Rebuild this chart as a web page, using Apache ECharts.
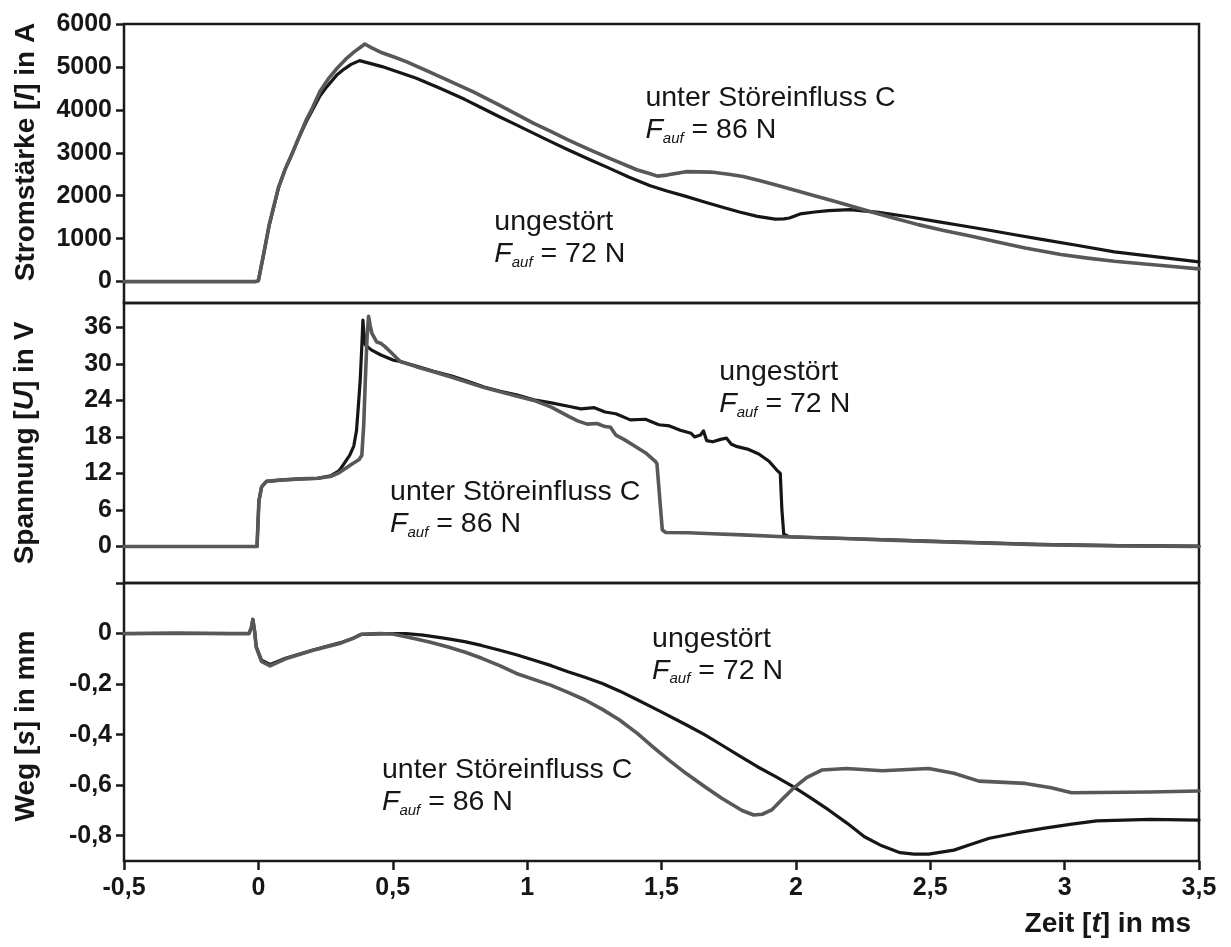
<!DOCTYPE html>
<html>
<head>
<meta charset="utf-8">
<script src="https://cdn.jsdelivr.net/npm/echarts@6/dist/echarts.min.js"></script>
<style>
  html, body { margin: 0; padding: 0; background: #ffffff; }
  #chart { width: 1231px; height: 947px; }
</style>
</head>
<body>
<div id="chart"></div>
<script>
// Time axis (ms) and per-panel tick values
const timeTicks = [-0.5, 0, 0.5, 1, 1.5, 2, 2.5, 3, 3.5];
const currentTicks = [0, 1000, 2000, 3000, 4000, 5000, 6000];
const voltageTicks = [0, 6, 12, 18, 24, 30, 36];
const travelTickMarks = [0.2, 0, -0.2, -0.4, -0.6, -0.8];
const travelTickLabels = [0, -0.2, -0.4, -0.6, -0.8];

// Stromstärke I in A: [t in ms, I]
const currentUndisturbed = [
  [-0.5, 0], [-0.3, 0], [-0.01, 0], [0.0, 20], [0.02, 650], [0.04, 1300], [0.075, 2180],
  [0.1, 2620], [0.127, 3000], [0.15, 3340], [0.178, 3720], [0.2, 3980], [0.229, 4320],
  [0.255, 4540], [0.293, 4820], [0.319, 4950], [0.345, 5060], [0.3765, 5147], [0.408, 5095],
  [0.46, 5008], [0.52, 4880], [0.588, 4736], [0.68, 4490], [0.7675, 4245], [0.83, 4050], [0.895, 3845],
  [0.96, 3650], [1.023, 3457], [1.09, 3255], [1.152, 3070], [1.23, 2850], [1.305, 2643], [1.38, 2430],
  [1.458, 2230], [1.52, 2110], [1.591, 1984], [1.66, 1855], [1.724, 1736], [1.79, 1620],
  [1.857, 1519], [1.923, 1455], [1.955, 1460], [1.976, 1481], [2.016, 1575], [2.07, 1620],
  [2.122, 1651], [2.202, 1674], [2.308, 1612], [2.42, 1510], [2.521, 1403], [2.62, 1300], [2.72, 1194],
  [2.82, 1085], [2.92, 977], [3.05, 840], [3.185, 690], [3.35, 570], [3.5, 457]
];
const currentDisturbed = [
  [-0.5, 0], [-0.3, 0], [-0.01, 0], [0.0, 20], [0.02, 650], [0.04, 1320], [0.075, 2200],
  [0.1, 2620], [0.127, 3000], [0.15, 3350], [0.178, 3767], [0.2, 4030], [0.229, 4426],
  [0.26, 4720], [0.293, 4969], [0.325, 5180], [0.3575, 5357], [0.38, 5460], [0.396, 5535],
  [0.42, 5450], [0.46, 5330], [0.505, 5230], [0.55, 5124], [0.63, 4900], [0.716, 4659], [0.8, 4420],
  [0.895, 4116], [0.96, 3900], [1.023, 3690], [1.09, 3490], [1.152, 3302], [1.23, 3080], [1.305, 2876],
  [1.408, 2605], [1.458, 2512], [1.485, 2455], [1.52, 2480], [1.591, 2560], [1.684, 2550],
  [1.75, 2500], [1.8035, 2449], [1.86, 2360], [1.923, 2256], [1.99, 2140], [2.056, 2023],
  [2.12, 1910], [2.189, 1791], [2.282, 1620], [2.37, 1470], [2.455, 1326], [2.55, 1190],
  [2.654, 1054], [2.75, 920], [2.853, 783], [2.986, 628], [3.085, 545], [3.185, 473], [3.35, 380], [3.5, 295]
];

// Spannung U in V
const voltageUndisturbed = [
  [-0.5, 0], [-0.005, 0], [0.002, 7.5], [0.012, 9.8], [0.03, 10.7], [0.08, 10.9], [0.156, 11.1],
  [0.22, 11.2], [0.268, 11.6], [0.3, 12.4], [0.317, 13.5], [0.34, 15.0], [0.355, 16.5],
  [0.365, 19], [0.372, 23], [0.379, 27.4], [0.385, 33], [0.389, 37.2], [0.392, 35.5],
  [0.398, 33.1], [0.42, 32.3], [0.454, 31.5], [0.503, 30.6], [0.528, 30.4], [0.59, 29.6],
  [0.652, 28.8], [0.72, 28.0], [0.776, 27.2], [0.84, 26.2], [0.9, 25.5], [0.96, 24.9],
  [1.025, 24.1], [1.09, 23.6], [1.158, 23.0], [1.2, 22.6], [1.25, 22.8], [1.29, 22.1],
  [1.33, 21.8], [1.384, 20.8], [1.44, 20.9], [1.49, 20.0], [1.53, 19.8], [1.57, 19.1],
  [1.61, 18.6], [1.623, 18.0], [1.645, 18.3], [1.656, 19.0], [1.668, 17.4], [1.69, 17.2],
  [1.72, 17.6], [1.742, 17.8], [1.76, 16.8], [1.782, 16.4], [1.82, 16.0], [1.862, 15.2],
  [1.9, 14.0], [1.928, 12.6], [1.942, 12.0], [1.948, 6], [1.955, 2.0], [1.975, 1.6],
  [2.154, 1.35], [2.35, 1.1], [2.553, 0.8], [2.75, 0.55], [2.898, 0.35], [3.2, 0.15], [3.5, 0.05]
];
const voltageDisturbed = [
  [-0.5, 0], [-0.005, 0], [0.002, 7.5], [0.012, 9.8], [0.03, 10.7], [0.08, 10.9], [0.156, 11.1],
  [0.22, 11.2], [0.268, 11.5], [0.3, 12.1], [0.317, 12.6], [0.35, 13.6], [0.375, 14.3],
  [0.385, 15.0], [0.392, 20], [0.398, 27.4], [0.404, 34], [0.41, 37.8], [0.416, 36.3],
  [0.4226, 35.0], [0.44, 33.6], [0.455, 33.4], [0.472, 32.8], [0.491, 32.0], [0.528, 30.4],
  [0.59, 29.5], [0.652, 28.7], [0.72, 27.8], [0.776, 27.0], [0.84, 26.1], [0.9, 25.4],
  [0.96, 24.7], [1.025, 24.0], [1.09, 22.9], [1.158, 21.3], [1.19, 20.6], [1.224, 20.1],
  [1.26, 20.2], [1.29, 19.7], [1.31, 19.6], [1.33, 18.3], [1.36, 17.6], [1.397, 16.6],
  [1.44, 15.4], [1.477, 14.0], [1.483, 13.6], [1.503, 2.7], [1.516, 2.3], [1.6, 2.25],
  [1.689, 2.1], [1.8, 1.9], [1.955, 1.6], [2.154, 1.35], [2.35, 1.05], [2.553, 0.75],
  [2.75, 0.5], [2.898, 0.3], [3.2, 0.1], [3.5, 0.0]
];

// Weg s in mm
const travelUndisturbed = [
  [-0.5, 0], [-0.3, 0.002], [-0.1, 0], [-0.035, 0], [-0.027, 0.02], [-0.0205, 0.056],
  [-0.014, 0.01], [-0.008, -0.052], [0.0115, -0.105], [0.0435, -0.122], [0.101, -0.098],
  [0.2035, -0.065], [0.306, -0.036], [0.35, -0.02], [0.383, -0.003], [0.4855, 0], [0.55, 0],
  [0.613, -0.006], [0.69, -0.018], [0.7675, -0.032], [0.83, -0.047], [0.895, -0.065], [0.96, -0.084],
  [1.023, -0.105], [1.09, -0.127], [1.152, -0.151], [1.215, -0.173], [1.28, -0.198], [1.345, -0.228],
  [1.41, -0.262], [1.49, -0.305], [1.59, -0.36], [1.66, -0.4],
  [1.724, -0.441], [1.79, -0.484], [1.857, -0.527], [1.925, -0.566], [1.99, -0.606], [2.055, -0.65],
  [2.122, -0.698], [2.19, -0.75], [2.255, -0.804], [2.32, -0.84], [2.388, -0.867], [2.44, -0.873],
  [2.494, -0.873], [2.588, -0.857], [2.65, -0.835], [2.72, -0.81], [2.82, -0.789],
  [2.92, -0.771], [3.02, -0.755], [3.119, -0.741], [3.318, -0.735], [3.5, -0.738]
];
const travelDisturbed = [
  [-0.5, 0], [-0.3, 0], [-0.1, 0], [-0.035, 0], [-0.027, 0.02], [-0.0205, 0.056],
  [-0.014, 0.01], [-0.008, -0.055], [0.0115, -0.11], [0.0435, -0.128], [0.101, -0.1],
  [0.2035, -0.066], [0.306, -0.038], [0.35, -0.02], [0.383, -0.003], [0.45, 0], [0.5, -0.002],
  [0.575, -0.019], [0.64, -0.034], [0.703, -0.052], [0.77, -0.074], [0.8315, -0.098], [0.9, -0.128],
  [0.96, -0.158], [1.0875, -0.204], [1.15, -0.232], [1.216, -0.263], [1.28, -0.3],
  [1.344, -0.342], [1.41, -0.395], [1.47, -0.45], [1.53, -0.503], [1.591, -0.553], [1.66, -0.605],
  [1.724, -0.652], [1.8, -0.7], [1.843, -0.718], [1.875, -0.715], [1.91, -0.698], [1.95, -0.655],
  [1.99, -0.613], [2.04, -0.57], [2.096, -0.54], [2.189, -0.534], [2.322, -0.543],
  [2.494, -0.534], [2.588, -0.553], [2.681, -0.584], [2.853, -0.593], [2.95, -0.61],
  [3.026, -0.63], [3.318, -0.627], [3.5, -0.623]
];

// Curve annotations: panel index, anchor (top-left, data units), label lines
const notes = [
  { panel: 0, at: [1.44, 4640], name: 'unter Störeinfluss C', force: '86 N' },
  { panel: 0, at: [0.878, 1760], name: 'ungestört', force: '72 N' },
  { panel: 1, at: [1.715, 31.3], name: 'ungestört', force: '72 N' },
  { panel: 1, at: [0.49, 11.6], name: 'unter Störeinfluss C', force: '86 N' },
  { panel: 2, at: [1.465, 0.043], name: 'ungestört', force: '72 N' },
  { panel: 2, at: [0.46, -0.478], name: 'unter Störeinfluss C', force: '86 N' }
];

const FONT = '"Liberation Sans", Arial, Helvetica, sans-serif';
const INK = '#161616';
const GREY = '#585858';
const FRAME = '#1a1a1a';

const comma = v => String(v).replace('.', ',');

const panels = [
  { top: 24, height: 279, min: -500, max: 6000, ticks: currentTicks, labels: currentTicks },
  { top: 303, height: 280, min: -6, max: 40, ticks: voltageTicks, labels: voltageTicks },
  { top: 583, height: 278, min: -0.9, max: 0.2, ticks: travelTickMarks, labels: travelTickLabels }
];

const grids = panels.map(p => ({
  left: 124, right: 32, top: p.top, height: p.height,
  show: true, borderColor: FRAME, borderWidth: 2.5, backgroundColor: 'transparent'
}));

const xAxes = panels.map((p, i) => {
  const bottom = i === panels.length - 1;
  return {
    type: 'value', gridIndex: i, min: -0.5, max: 3.5, interval: 0.5, position: 'bottom',
    axisLine: { show: false, onZero: false },
    splitLine: { show: false },
    axisTick: { show: bottom, inside: false, length: 9, lineStyle: { color: FRAME, width: 2.5 } },
    axisLabel: {
      show: bottom, margin: 15, formatter: comma,
      customValues: timeTicks,
      fontFamily: FONT, fontWeight: 'bold', fontSize: 25, color: INK
    }
  };
});

const yAxes = panels.map((p, i) => ({
  type: 'value', gridIndex: i, min: p.min, max: p.max, position: 'left',
  axisLine: { show: false, onZero: false },
  splitLine: { show: false },
  axisTick: { show: true, inside: false, length: 8, customValues: p.ticks,
              lineStyle: { color: FRAME, width: 2.5 } },
  axisLabel: {
    show: true, margin: 12, formatter: comma, customValues: p.labels,
    fontFamily: FONT, fontWeight: 'bold', fontSize: 25, color: INK
  }
}));

function line(data, panel, color, width, z) {
  return {
    type: 'line', data, xAxisIndex: panel, yAxisIndex: panel,
    showSymbol: false, symbol: 'none', smooth: false, z,
    lineStyle: { color, width, join: 'round', cap: 'round' }
  };
}

const series = [
  line(currentUndisturbed, 0, INK, 3.2, 2),
  line(currentDisturbed, 0, GREY, 3.6, 3),
  line(voltageUndisturbed, 1, INK, 3.2, 2),
  line(voltageDisturbed, 1, GREY, 3.6, 3),
  line(travelUndisturbed, 2, INK, 3.2, 2),
  line(travelDisturbed, 2, GREY, 3.6, 3)
];

const chart = echarts.init(document.getElementById('chart'), null, { renderer: 'canvas' });
chart.setOption({
  animation: false,
  backgroundColor: '#ffffff',
  grid: grids,
  xAxis: xAxes,
  yAxis: yAxes,
  series
});

// Axis titles with italic symbols
const titleRich = {
  b: { fontFamily: FONT, fontWeight: 'bold', fontSize: 28, fill: INK },
  i: { fontFamily: FONT, fontWeight: 'bold', fontStyle: 'italic', fontSize: 28, fill: INK }
};
function axisTitle(text, x, y, rotation) {
  return {
    type: 'text', x, y, rotation,
    style: {
      text, rich: titleRich, fill: INK,
      align: 'center', verticalAlign: 'middle',
      textAlign: 'center', textVerticalAlign: 'middle'
    }
  };
}

const noteRich = {
  n: { fontFamily: FONT, fontSize: 28.5, lineHeight: 32, fill: INK },
  f: { fontFamily: FONT, fontSize: 28.5, fontStyle: 'italic', lineHeight: 32, fill: INK },
  s: { fontFamily: FONT, fontSize: 15, fontStyle: 'italic', lineHeight: 15, verticalAlign: 'bottom', fill: INK }
};

const graphics = [
  axisTitle('{b|Stromstärke [}{i|I}{b|] in A}', 26, 152, Math.PI / 2),
  axisTitle('{b|Spannung [}{i|U}{b|] in V}', 25.5, 443, Math.PI / 2),
  axisTitle('{b|Weg [}{i|s}{b|] in mm}', 26, 726, Math.PI / 2),
  {
    type: 'text', x: 1191, y: 924,
    style: {
      text: '{b|Zeit [}{i|t}{b|] in ms}', rich: titleRich, fill: INK,
      align: 'right', verticalAlign: 'middle',
      textAlign: 'right', textVerticalAlign: 'middle'
    }
  }
];

notes.forEach(n => {
  const p = chart.convertToPixel({ xAxisIndex: n.panel, yAxisIndex: n.panel }, n.at);
  graphics.push({
    type: 'text', x: p[0], y: p[1],
    style: {
      text: '{n|' + n.name + '}\n{f|F}{s|auf}{n| = ' + n.force + '}',
      rich: noteRich, fill: INK,
      align: 'left', verticalAlign: 'top',
      textAlign: 'left', textVerticalAlign: 'top'
    }
  });
});

chart.setOption({ graphic: graphics });
</script>
</body>
</html>
